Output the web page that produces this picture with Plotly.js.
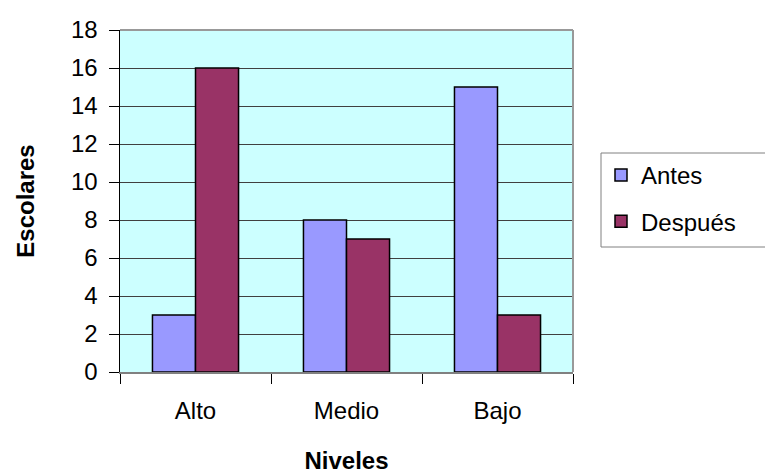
<!DOCTYPE html>
<html>
<head>
<meta charset="utf-8">
<script src="https://cdn.plot.ly/plotly-3.0.1.min.js"></script>
<style>html,body{margin:0;padding:0;background:#fff;}#chart{width:765px;height:474px;}</style>
</head>
<body>
<div id="chart"></div>
<script>
var categories = ["Alto", "Medio", "Bajo"];
var antes = [3, 8, 15];
var despues = [16, 7, 3];
var seriesNames = ["Antes", "Después"];
var yTicks = [0, 2, 4, 6, 8, 10, 12, 14, 16, 18];

var font = "Liberation Sans, Arial, sans-serif";
var W = 765, H = 474, ML = 120, MR = 192, MT = 30, MB = 102;
var pw = W - ML - MR, ph = H - MT - MB;
function px(x) { return (x - ML) / pw; }
function py(y) { return (H - MB - y) / ph; }

var traces = [
  {type: "bar", name: seriesNames[0], x: categories, y: antes, legendgroup: "a",
   marker: {color: "#9999FF", line: {color: "#000", width: 1.5}}},
  {type: "bar", name: seriesNames[1], x: categories, y: despues, legendgroup: "b",
   marker: {color: "#993366", line: {color: "#000", width: 1.5}}}
];
var layout = {
  width: W, height: H,
  margin: {l: ML, r: MR, t: MT, b: MB},
  paper_bgcolor: "#fff", plot_bgcolor: "#CCFFFF",
  barmode: "group", bargap: 0.43, bargroupgap: 0,
  font: {family: font, size: 24, color: "#000"},
  xaxis: {
    type: "category", tickson: "boundaries", ticks: "outside", ticklen: 10,
    tickcolor: "#000", showgrid: false, showline: true, linecolor: "#808080", linewidth: 2,
    automargin: false, tickfont: {size: 24}, ticklabelstandoff: 16,
    title: {text: "<b>Niveles</b>", font: {size: 24}, standoff: 30}
  },
  yaxis: {
    range: [0, 18], tickvals: yTicks, ticks: "outside", ticklen: 10, tickcolor: "#000",
    showgrid: true, gridcolor: "#404040", gridwidth: 1, zeroline: false,
    showline: true, linecolor: "#000", linewidth: 1.5, automargin: false,
    tickfont: {size: 24}, ticklabelstandoff: 6,
    title: {text: "<b>Escolares</b>", font: {size: 24}, standoff: 29}
  },
  shapes: [
    {type: "line", xref: "paper", yref: "paper", x0: 0, x1: 1, y0: 1, y1: 1, line: {color: "#999", width: 2}},
    {type: "line", xref: "paper", yref: "paper", x0: 1, x1: 1, y0: 0, y1: 1, line: {color: "#999", width: 2}},
    {type: "rect", xref: "paper", yref: "paper", x0: px(601), x1: px(775), y0: py(153), y1: py(247),
     line: {color: "#808080", width: 1}, fillcolor: "rgba(0,0,0,0)", layer: "above"}
  ],
  showlegend: true,
  legend: {x: px(601), xanchor: "left", y: py(153), yanchor: "top",
    borderwidth: 0, bgcolor: "rgba(255,255,255,0)", traceorder: "grouped",
    font: {size: 24}, tracegroupgap: 12, itemwidth: 30}
};
Plotly.newPlot("chart", traces, layout, {displayModeBar: false, staticPlot: true});
</script>
</body>
</html>
